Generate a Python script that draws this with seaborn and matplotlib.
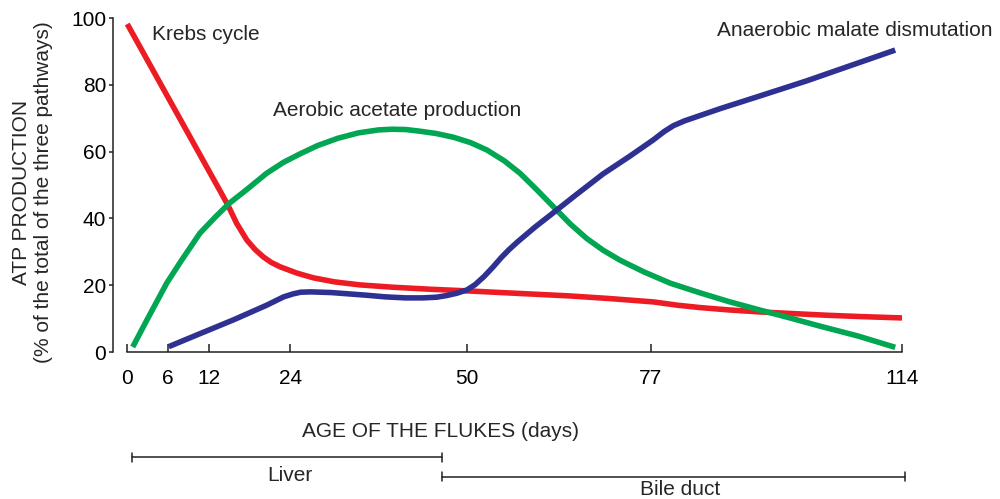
import matplotlib
matplotlib.use("Agg")
import matplotlib.pyplot as plt
import numpy as np
import pandas as pd
import seaborn as sns

# ATP production by pathway (% of the total of the three pathways) vs. fluke age in days
krebs_day = [0, 5, 11.2, 13.5, 14.8, 16.1, 17.6, 18.8, 20, 21.2, 22.5, 25, 27.4, 30.5, 34.2,
             39, 44.5, 50, 57, 65, 71, 77.4, 81, 84.3, 88.5, 93, 98, 103, 108, 114]
krebs_pct = [98.2, 79.9, 57.2, 48.8, 44, 38.5, 33.5, 30.7, 28.5, 26.8, 25.5, 23.6, 22.2, 21,
             20.1, 19.4, 18.8, 18.3, 17.6, 16.8, 16, 15, 14, 13.3, 12.6, 12, 11.5, 11, 10.6, 10.2]

acetate_day = [0.8, 3, 5.8, 8, 10.7, 13, 15, 17.5, 20.5, 23, 25.4, 28, 31, 34, 37, 39, 41,
               43.1, 45.5, 48, 50.5, 52.9, 55.5, 57.8, 60.2, 62.7, 65.2, 67.6, 70, 72.5, 76,
               79.9, 84.3, 88.5, 93.2, 97.5, 102, 107.5, 113]
acetate_pct = [1.5, 10, 20.6, 27.5, 35.6, 40.5, 44.5, 48.5, 53.5, 56.8, 59.3, 61.8, 64, 65.6,
               66.5, 66.7, 66.6, 66.1, 65.4, 64.3, 62.7, 60.5, 57.2, 53.5, 48.7, 43.5, 38.3,
               34, 30.5, 27.5, 24, 20.6, 17.7, 15.1, 12.5, 10.2, 7.7, 4.8, 1.4]

malate_day = [6.1, 10, 15.6, 20.5, 23, 24.4, 25.5, 27, 30, 35.2, 38, 41, 43.5, 45.5, 47, 48.5,
              50, 51.2, 52.5, 53.8, 55, 56.2, 57.5, 60, 62.7, 66, 70, 74, 77.4, 79, 80.4, 82,
              84, 87.3, 93, 100, 106.5, 113]
malate_pct = [1.6, 4.9, 9.6, 14, 16.5, 17.4, 17.9, 18, 17.8, 17, 16.5, 16.2, 16.2, 16.4, 16.9,
              17.6, 18.6, 20.2, 22.6, 25.4, 28.2, 30.7, 33.1, 37.4, 41.7, 47, 53.3, 58.7, 63.5,
              66, 67.8, 69.2, 70.6, 72.9, 76.6, 81.2, 85.8, 90.4]

pathways = ["Krebs cycle", "Aerobic acetate production", "Anaerobic malate dismutation"]
colors = ["#ED1C24", "#00A651", "#2E3192"]

day_ticks = [0, 6, 12, 24, 50, 77, 114]
pct_ticks = [0, 20, 40, 60, 80, 100]

# stage brackets: (label, start day, end day)
stages = [("Liver", 0.7, 46.3), ("Bile duct", 46.3, 114.5)]

df = pd.concat([
    pd.DataFrame({"day": krebs_day, "pct": krebs_pct, "pathway": pathways[0]}),
    pd.DataFrame({"day": acetate_day, "pct": acetate_pct, "pathway": pathways[1]}),
    pd.DataFrame({"day": malate_day, "pct": malate_pct, "pathway": pathways[2]}),
], ignore_index=True)

sns.set_style("ticks")
plt.rcParams["font.family"] = ["Liberation Sans", "DejaVu Sans"]
ink = "#231F20"
fs = 15

W, H = 1000, 499
fig = plt.figure(figsize=(W / 100, H / 100), dpi=100)
ax = fig.add_axes([113 / W, 147 / H, 789 / W, 334 / H])

sns.lineplot(data=df, x="day", y="pct", hue="pathway", hue_order=pathways,
             palette=dict(zip(pathways, colors)), sort=False, estimator=None,
             linewidth=4, legend=False, ax=ax)
for ln in ax.lines:
    ln.set_clip_on(False)
    ln.set_solid_capstyle("butt")
    ln.set_solid_joinstyle("round")

ax.set_xlim(-2.1, 114)
ax.set_ylim(0, 100)
ax.set_xlabel("")
ax.set_ylabel("")
sns.despine(ax=ax)
ax.spines["left"].set_bounds(0, 100)
ax.spines["bottom"].set_bounds(0, 114)
for s in ("left", "bottom"):
    ax.spines[s].set_color(ink)
    ax.spines[s].set_linewidth(1.1)

ax.set_xticks(day_ticks)
ax.set_xticklabels([str(d) for d in day_ticks])
ax.set_yticks(pct_ticks)
ax.set_yticklabels([str(p) for p in pct_ticks])
ax.tick_params(axis="x", direction="in", length=6, width=1.1, color=ink,
               pad=12, labelsize=fs, labelcolor="black")
ax.tick_params(axis="y", direction="out", length=3, width=1.1, color=ink,
               pad=2, labelsize=fs, labelcolor="black")

# curve labels
ax.text(3.6, 93.5, "Krebs cycle", fontsize=fs, ha="left", va="baseline")
ax.text(21.4, 70.8, "Aerobic acetate production", fontsize=fs, ha="left", va="baseline")
ax.text(86.8, 94.5, "Anaerobic malate dismutation", fontsize=fs, ha="left",
        va="baseline", clip_on=False)

# axis titles
fig.text(441 / W, 1 - 437 / H, "AGE OF THE FLUKES (days)", fontsize=fs,
         ha="center", va="baseline")
fig.text(32.5 / W, 1 - 192 / H, "ATP PRODUCTION\n(% of the total of the three pathways)",
         fontsize=fs, rotation=90, ha="center", va="center", multialignment="center",
         linespacing=1.2)

# stage brackets below the axis
bracket_y = [-31.5, -37.4]
label_y = [-38.7, -42.8]
cap = 1.35
for (name, x0, x1), by, ly in zip(stages, bracket_y, label_y):
    ax.plot([x0, x1], [by, by], color=ink, lw=1.1, clip_on=False)
    for xe in (x0, x1):
        ax.plot([xe, xe], [by - cap, by + cap], color=ink, lw=1.1, clip_on=False)
    ax.text((x0 + x1) / 2 + (0.5 if name == "Liver" else 1.0), ly, name, fontsize=fs,
            ha="center", va="baseline", clip_on=False)

fig.savefig("out.png", dpi=100)
